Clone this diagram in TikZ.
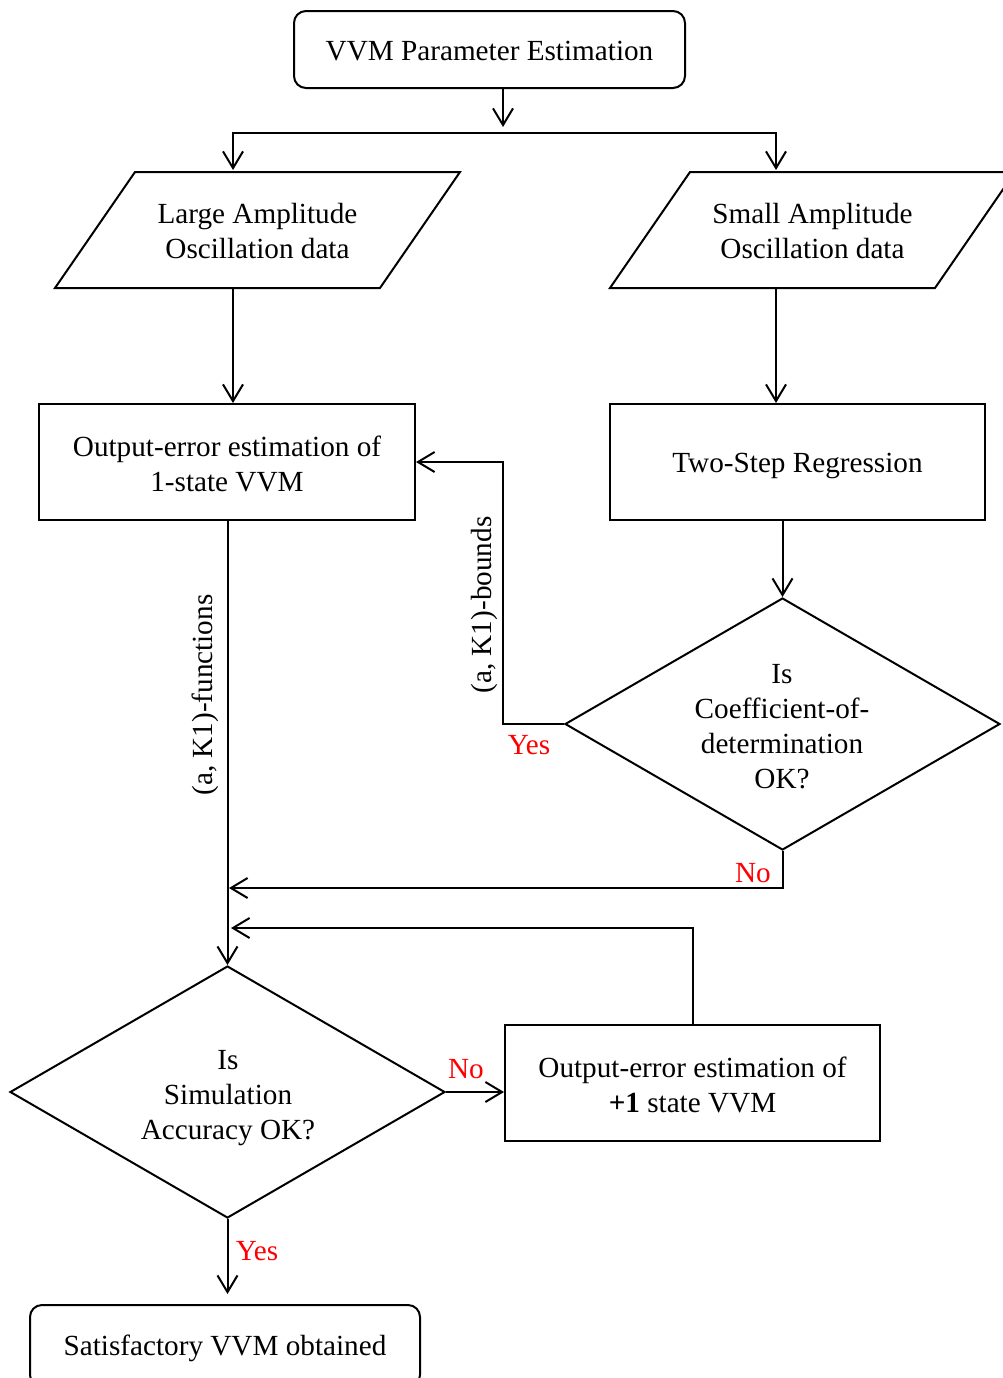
\documentclass[tikz,border=0pt]{standalone}
\usepackage{fontspec}
\setmainfont{Liberation Serif}
\usetikzlibrary{arrows.meta,shapes.geometric}
\begin{document}
\begin{tikzpicture}[x=0.75pt,y=-0.75pt,
  every node/.style={font=\fontsize{21.9}{26.3}\selectfont, align=center, inner sep=0pt},
  box/.style={draw, line width=1.5pt, rectangle, minimum width=#1*0.75pt, minimum height=116*0.75pt},
  rbox/.style={draw, line width=1.5pt, rectangle, rounded corners=9pt, minimum width=#1*0.75pt},
  dia/.style={draw, line width=1.5pt, diamond, minimum width=435*0.75pt, minimum height=252*0.75pt},
  plain/.style={draw=none},
  lbl/.style={text=red},
  conn/.style={line width=1.5pt},
  arr/.style={conn, -{Straight Barb[length=12.5pt,width=15pt,line width=1.5pt]}}
]
\useasboundingbox (0,0) rectangle (1003,1378);

% nodes
\node[rbox=391, minimum height=77*0.75pt] (top) at (489.5,49.5) {};
\node[plain] (topt) at (489.5,51) {VVM Parameter Estimation};

\node[plain, minimum height=116*0.75pt] (lad) at (257.5,231) {Large Amplitude\\Oscillation data};
\node[plain, minimum height=116*0.75pt] (sad) at (812.5,231) {Small Amplitude\\Oscillation data};
\draw[line width=1.5pt, line join=miter] (55,288) -- (135,172) -- (460,172) -- (380,288) -- cycle;
\draw[line width=1.5pt, line join=miter] (610,288) -- (690,172) -- (1015,172) -- (935,288) -- cycle;

\node[box=376] (lbox) at (227,462) {};
\node[plain] (lboxt) at (227,464) {Output-error estimation of\\1-state VVM};
\node[box=375] (rbox2) at (797.5,462) {};
\node[plain] (rbox2t) at (797.5,466) {Two-Step Regression};

\node[dia] (d1) at (782.5,724) {};
\node[plain] (d1t) at (782,727) {Is\\Coefficient-of-\\determination\\OK?};

\node[dia] (d2) at (227.5,1092) {};
\node[plain] (d2t) at (228,1098) {Is\\Simulation\\Accuracy OK?};

\node[box=375] (box2) at (692.5,1083) {};
\node[plain] (box2t) at (692.5,1085) {Output-error estimation of\\\textbf{+1} state VVM};

\node[rbox=390, minimum height=82*0.75pt] (sat) at (225,1346) {};
\node[plain] (satt) at (225,1348) {Satisfactory VVM obtained};

% coordinates
\coordinate (split) at (503,133);
\coordinate (ladtop) at (233,170);
\coordinate (ladbot) at (233,288);
\coordinate (sadtop) at (776,170);
\coordinate (sadbot) at (776,288);
\coordinate (merge1) at (229,888);
\coordinate (merge2) at (231,928);

% connectors
\draw[arr] (top.south -| split) -- ([yshift=4.5pt]split);
\draw[arr] (ladtop -| split) ++(0,-37) -| (ladtop);
\draw[arr] (sadtop -| split) ++(0,-37) -| (sadtop);
\draw[arr] (ladbot) -- (ladbot |- lbox.north);
\draw[arr] (sadbot) -- (sadbot |- rbox2.north);
\draw[arr] (rbox2.south -| d1.north) -- (d1.north);
\draw[arr] (d1.west) -- ++(-61,0) |- (lbox.east);
\draw[arr] (d1.south) |- (merge1);
\draw[arr] (lbox.south -| d2.north) -- (d2.north);
\draw[arr] (box2.north) |- (merge2);
\draw[arr] (d2.east) -- (d2.east -| box2.west);
\draw[arr, shorten >=7.5pt] (d2.south) -- (sat.north -| d2.south);

% labels
\node[rotate=90] (lb1) at (484,605) {(a, K1)-bounds};
\node[rotate=90] (lb2) at (205,695) {(a, K1)-functions};
\node[lbl] (y1) at (529,745) {Yes};
\node[lbl] (n1) at (753,873) {No};
\node[lbl] (n2) at (466,1069) {No};
\node[lbl] (y2) at (257,1251) {Yes};
\end{tikzpicture}
\end{document}
